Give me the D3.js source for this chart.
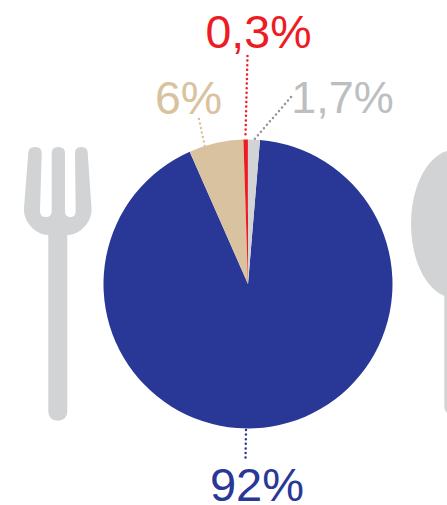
<!DOCTYPE html>
<html><head><meta charset="utf-8">
<script src="https://cdnjs.cloudflare.com/ajax/libs/d3/7.8.5/d3.min.js"></script>
<style>html,body{margin:0;padding:0;background:#fff;overflow:hidden}svg{display:block}</style>
</head><body><svg id="c" width="447" height="505"></svg>
<script>
const categories = ["a","b","c","d"];
const labels = ["92%","6%","0,3%","1,7%"];
const sliceShares = [92.07,6.1,0.5,1.33];
const colors = ["#293896","#d9c2a0","#ed1c24","#d1d3d4"];
const textColors = ["#293896","#d9c2a0","#ed1c24","#bcbec0"];
const dotColors = ["#293896","#d9c2a0","#ed1c24","#939598"];
const labelPos = [[257,501],[188.5,114],[258.5,48],[342.5,113]];
const labelSize = [47,46.5,46.5,45];
const leaders = [[[246,430],[245.5,459]],[[199,119],[206,152]],[[247.5,56],[245.5,135]],[[291,97],[253,141]]];

const svg = d3.select("#c");
const cx=248, cy=284, R=144.5;
const iconColor="#d1d3d4";

svg.append("path").attr("fill",iconColor).attr("d",
 "M28.3,153 Q28.3,147 35,147 Q41.7,147 41.7,153 L40,211 Q40,217 45.8,217 Q51.7,217 51.7,211 L51.7,153 Q51.7,147 58.3,147 Q65,147 65,153 L65,211 Q65,217 70.3,217 Q75.7,217 75.7,211 L75,153 Q75,147 81.3,147 Q87.7,147 87.7,153 L91.5,208 C92.5,222 80,235 67.3,235 L67.3,411 Q67.3,420.7 57.8,420.7 Q48.3,420.7 48.3,411 L48.3,235 C36,235 23,222 24,208 Z");
svg.append("ellipse").attr("cx",454).attr("cy",224).attr("rx",43).attr("ry",74).attr("fill",iconColor);
svg.append("path").attr("fill",iconColor).attr("d","M444.3,290 L463,290 L463,405 Q463,415 453.6,415 Q444.3,415 444.3,405 Z");

const start = Math.atan2(12,144);
const pie = d3.pie().sort(null).startAngle(start).endAngle(start+2*Math.PI);
const arc = d3.arc().innerRadius(0).outerRadius(R);
svg.append("g").attr("transform",`translate(${cx},${cy})`)
  .selectAll("path").data(pie(sliceShares)).join("path")
  .attr("d",arc).attr("fill",(d,i)=>colors[i]);

svg.append("g").selectAll("line").data(leaders).join("line")
  .attr("x1",d=>d[0][0]).attr("y1",d=>d[0][1]).attr("x2",d=>d[1][0]).attr("y2",d=>d[1][1])
  .attr("stroke",(d,i)=>dotColors[i]).attr("stroke-width",2.5).attr("stroke-linecap","round")
  .attr("stroke-dasharray","0 4.6");

svg.append("g").selectAll("text").data(labels).join("text")
  .attr("x",(d,i)=>labelPos[i][0]).attr("y",(d,i)=>labelPos[i][1])
  .attr("text-anchor","middle").attr("font-family","Liberation Sans, Arial, sans-serif")
  .attr("font-size",(d,i)=>labelSize[i]).attr("fill",(d,i)=>textColors[i]).text(d=>d);
</script></body></html>
